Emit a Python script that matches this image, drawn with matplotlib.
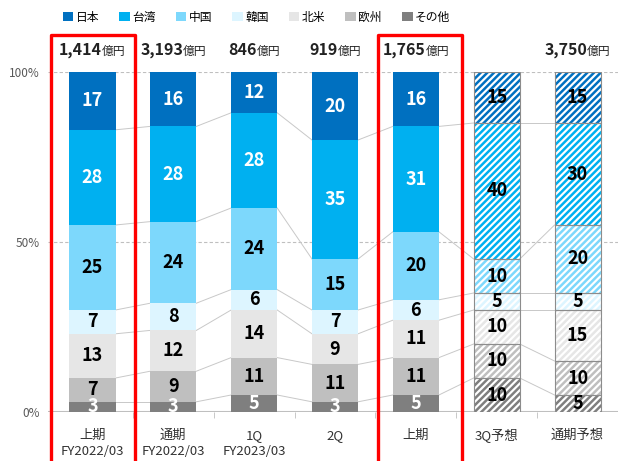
import numpy as np
import matplotlib
matplotlib.use('Agg')
import matplotlib.pyplot as plt
from matplotlib.patches import Rectangle, Patch
from matplotlib.offsetbox import TextArea, HPacker, AnnotationBbox

plt.rcParams['font.family'] = ['Noto Sans CJK JP', 'DejaVu Sans']
plt.rcParams['hatch.linewidth'] = 1.8

# data (percent share by region)
categories = ['上期\nFY2022/03', '通期\nFY2022/03', '1Q\nFY2023/03', '2Q',
              '上期', '3Q予想', '通期予想']
regions = ['日本', '台湾', '中国', '韓国', '北米', '欧州', 'その他']
japan  = [17, 16, 12, 20, 16, 15, 15]
taiwan = [28, 28, 28, 35, 31, 40, 30]
china  = [25, 24, 24, 15, 20, 10, 20]
korea  = [7, 8, 6, 7, 6, 5, 5]
namer  = [13, 12, 14, 9, 11, 10, 15]
europe = [7, 9, 11, 11, 11, 10, 10]
other  = [3, 3, 5, 3, 5, 10, 5]
totals = ['1,414', '3,193', '846', '919', '1,765', '', '3,750']
forecast = [False, False, False, False, False, True, True]

colors = ['#0070C0', '#00B0F0', '#7DD8FC', '#DDF5FF', '#E6E6E6', '#BFBFBF', '#7F7F7F']
white_text = [True, True, False, False, False, False, True]

# stack bottom -> top: other, europe, namer, korea, china, taiwan, japan
series = [japan, taiwan, china, korea, namer, europe, other]
stack_order = list(range(6, -1, -1))

W, H = 618, 461
fig = plt.figure(figsize=(W / 100, H / 100), dpi=100)
ax = fig.add_axes([48 / W, 1 - 412 / H, 570 / W, 340 / H])
ax.set_xlim(-0.55, 6.5)
ax.set_ylim(0, 100)

x = np.arange(len(categories))
bw = 0.57
bottom = np.zeros(len(categories))
bounds = []
for k in stack_order:
    vals = np.array(series[k], dtype=float)
    for i in range(len(x)):
        if forecast[i]:
            ax.bar(x[i], vals[i], bw, bottom=bottom[i], color='white',
                   edgecolor=colors[k], hatch='/////', linewidth=0, zorder=2)
            ax.bar(x[i], vals[i], bw, bottom=bottom[i], fill=False,
                   edgecolor='#8C8C8C', linewidth=0.8, zorder=3)
            tc = 'black'
        else:
            ax.bar(x[i], vals[i], bw, bottom=bottom[i], color=colors[k],
                   linewidth=0, zorder=2)
            tc = 'white' if white_text[k] else 'black'
        ax.text(x[i], bottom[i] + vals[i] / 2, str(int(vals[i])), ha='center',
                va='center', fontsize=13, fontweight='bold', color=tc, zorder=4)
    bottom = bottom + vals
    bounds.append(bottom.copy())

# connector lines between bars
for b in bounds[:-1]:
    for i in range(len(x) - 1):
        ax.plot([x[i] + bw / 2, x[i + 1] - bw / 2], [b[i], b[i + 1]],
                color='#C8C8C8', linewidth=0.7, zorder=1)

# grid
for g in [50, 100]:
    ax.axhline(g, color='#BFBFBF', linewidth=0.8, linestyle=(0, (3, 2)), zorder=0)
ax.axhline(0, color='#BFBFBF', linewidth=1.5, zorder=1)

for s in ax.spines.values():
    s.set_visible(False)
ax.set_yticks([0, 50, 100])
ax.set_yticklabels(['0%', '50%', '100%'], fontsize=8.5, color='#595959')
ax.tick_params(axis='y', length=0, pad=6)
ax.set_xticks(x)
ax.set_xticklabels(categories, fontsize=9.5, color='#333333', linespacing=1.3)
ax.tick_params(axis='x', length=0, pad=12)
ax.set_xticks(x[:-1] + 0.5, minor=True)
ax.tick_params(axis='x', which='minor', length=4, color='#BFBFBF', direction='out')

# totals above bars
for i, t in enumerate(totals):
    if not t:
        continue
    box = HPacker(children=[
        TextArea(t, textprops=dict(fontsize=11.5, fontweight='bold', color='#222222')),
        TextArea('億円', textprops=dict(fontsize=8.5, color='#222222'))],
        align='baseline', pad=0, sep=0)
    ab = AnnotationBbox(box, (x[i], 106.5), frameon=False, box_alignment=(0.5, 0.5),
                        annotation_clip=False)
    ax.add_artist(ab)

# red highlight boxes
for left, right in [(51, 135), (378, 462)]:
    fig.patches.append(Rectangle((left / W, -0.05), (right - left) / W,
                                 1 - 35 / H + 0.05, transform=fig.transFigure,
                                 fill=False, edgecolor='#FF0000', linewidth=2.4,
                                 joinstyle='round', zorder=10))

handles = [Patch(facecolor=c, edgecolor='none') for c in colors]
fig.legend(handles, regions, loc='center left', bbox_to_anchor=(52 / W, 1 - 17 / H),
           ncol=7, frameon=False, fontsize=8.5, handlelength=0.9, handleheight=0.9,
           handletextpad=0.2, columnspacing=1.7)

fig.savefig('out.png', dpi=100)
